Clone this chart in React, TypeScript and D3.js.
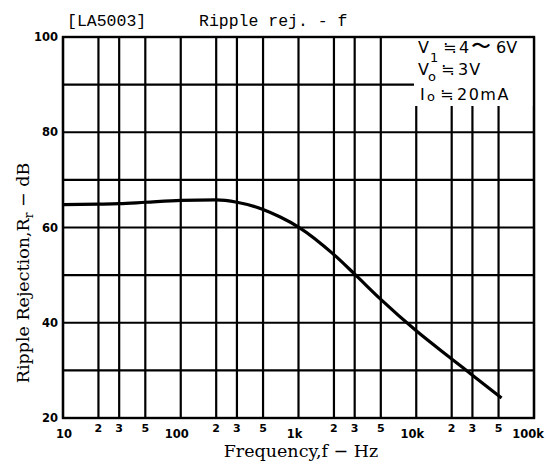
import React from "react";
import * as d3 from "d3";

const freqs = [10, 20, 30, 50, 100, 200, 300, 500, 700, 1000, 2000, 3000, 5000, 10000, 20000, 30000, 53000];
const rejection = [64.8, 64.9, 65.0, 65.3, 65.7, 65.8, 65.3, 63.8, 62.2, 60.1, 54.3, 50.2, 44.9, 38.3, 32.4, 29.0, 24.2];

const decadeTicks = [10, 100, 1000, 10000, 100000];
const decadeLabels = ["10", "100", "1k", "10k", "100k"];
const minorMults = [2, 3, 5];
const yTicks = [20, 30, 40, 50, 60, 70, 80, 90, 100];
const yLabelTicks = [20, 40, 60, 80, 100];

const W = 546, H = 468;
const L = 63, R = 534, T = 37, B = 418;

export default function App() {
  const x = d3.scaleLog().domain([10, 100000]).range([L, R]);
  const y = d3.scaleLinear().domain([20, 100]).range([B, T]);

  const vLines: number[] = [];
  decadeTicks.slice(0, 4).forEach((d) => {
    [1, ...minorMults].forEach((m) => vLines.push(d * m));
  });
  vLines.push(100000);

  const minorLabels: { v: number; t: string }[] = [];
  decadeTicks.slice(0, 4).forEach((d) => minorMults.forEach((m) => minorLabels.push({ v: d * m, t: String(m) })));

  const line = d3
    .line<number>()
    .x((_, i) => x(freqs[i]))
    .y((d) => y(d))
    .curve(d3.curveMonotoneX);

  const mono = "'Liberation Mono', 'DejaVu Sans Mono', monospace";
  const sans = "'DejaVu Sans', sans-serif";
  const serif = "'DejaVu Serif', serif";

  return (
    <svg width={W} height={H} style={{ position: "absolute", left: 0, top: 0, background: "#fff" }}>
      <rect x={0} y={0} width={W} height={H} fill="#fff" />
      {/* grid */}
      {vLines.map((v, i) => (
        <line key={"v" + i} x1={x(v)} x2={x(v)} y1={T} y2={B} stroke="#000" strokeWidth={2.2} />
      ))}
      {yTicks.map((v, i) => (
        <line key={"h" + i} x1={L} x2={R} y1={y(v)} y2={y(v)} stroke="#000" strokeWidth={2.2} />
      ))}
      {/* legend box background */}
      <rect x={414} y={T} width={R - 414} height={106 - T} fill="#fff" />
      {/* border */}
      <rect x={L} y={T} width={R - L} height={B - T} fill="none" stroke="#000" strokeWidth={2.4} />
      {/* curve */}
      <path d={line(rejection) || ""} fill="none" stroke="#000" strokeWidth={3.2} />

      {/* title */}
      <text x={67} y={26} fontFamily={mono} fontSize={16.5} fill="#000">[LA5003]</text>
      <text x={199} y={26} fontFamily={mono} fontSize={16.5} fill="#000">Ripple rej. - f</text>

      {/* legend */}
      <g fontFamily={sans} fontSize={16} fill="#000">
        <text y={53}>
          <tspan x={418}>V</tspan>
          <tspan x={430} dy={9} fontSize={13}>1</tspan>
          <tspan x={443} dy={-9}>≒</tspan>
          <tspan x={459}>4</tspan>
          <tspan x={471} fontSize={20}>〜</tspan>
          <tspan x={496}>6V</tspan>
        </text>
        <text y={75}>
          <tspan x={418}>V</tspan>
          <tspan x={428} dy={6} fontSize={13}>o</tspan>
          <tspan x={441} dy={-6}>≒</tspan>
          <tspan x={458} letterSpacing={1}>3V</tspan>
        </text>
        <text y={100}>
          <tspan x={420}>I</tspan>
          <tspan x={427} dy={1} fontSize={13}>o</tspan>
          <tspan x={440} dy={-1}>≒</tspan>
          <tspan x={457} letterSpacing={1.5}>20mA</tspan>
        </text>
      </g>

      {/* y tick labels */}
      {yLabelTicks.map((v) => (
        <text key={"yl" + v} x={58} y={y(v)} dy="0.35em" textAnchor="end" fontFamily={sans} fontWeight="bold" fontSize={11.5} fill="#000">
          {v}
        </text>
      ))}

      {/* x tick labels */}
      {decadeTicks.map((v, i) => (
        <text key={"xl" + v} x={x(v) + (i === 0 ? 1 : i === 4 ? -6 : -4)} y={438} textAnchor="middle" fontFamily={sans} fontWeight="bold" fontSize={11.5} fill="#000">
          {decadeLabels[i]}
        </text>
      ))}
      {minorLabels.map((m, i) => (
        <text key={"ml" + i} x={x(m.v)} y={432} textAnchor="middle" fontFamily={sans} fontWeight="bold" fontSize={11} fill="#000">
          {m.t}
        </text>
      ))}

      {/* axis titles */}
      <text x={301} y={457} textAnchor="middle" fontFamily={serif} fontSize={17.5} fill="#000">
        Frequency,f − Hz
      </text>
      <text transform="translate(29,273) rotate(-90)" textAnchor="middle" fontFamily={serif} fontSize={17.5} fill="#000">
        Ripple Rejection,R<tspan dy={4} fontSize={12}>r</tspan>
        <tspan dy={-4}> − dB</tspan>
      </text>
    </svg>
  );
}
